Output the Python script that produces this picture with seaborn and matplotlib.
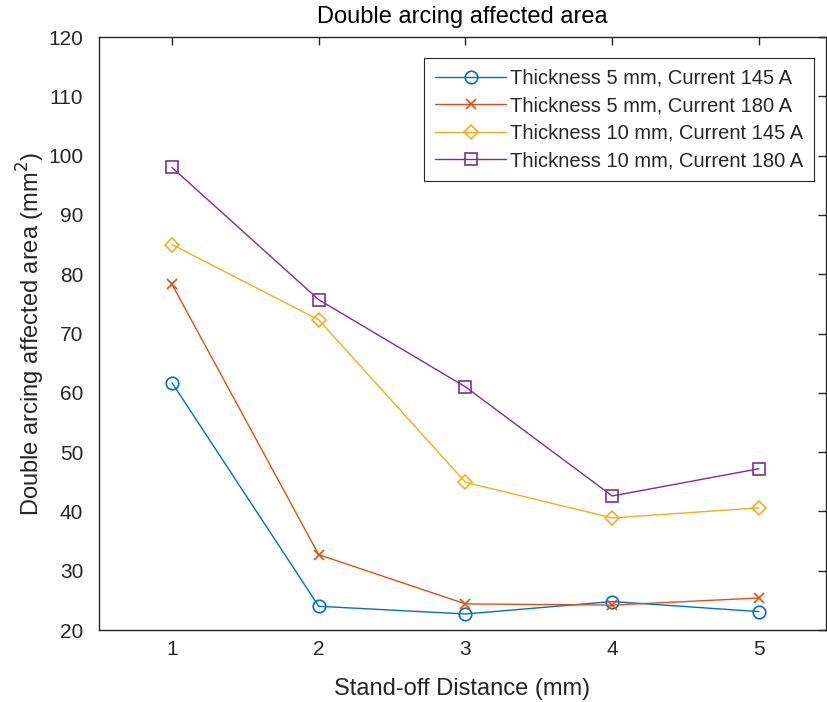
import matplotlib
matplotlib.use("Agg")
import matplotlib.pyplot as plt
import seaborn as sns
import pandas as pd

distance = [1, 2, 3, 4, 5]
t5_c145 = [61.7, 24.0, 22.7, 24.8, 23.1]
t5_c180 = [78.3, 32.7, 24.4, 24.2, 25.4]
t10_c145 = [85.0, 72.3, 44.9, 38.9, 40.6]
t10_c180 = [98.0, 75.7, 61.0, 42.6, 47.2]
labels = ["Thickness 5 mm, Current 145 A", "Thickness 5 mm, Current 180 A",
          "Thickness 10 mm, Current 145 A", "Thickness 10 mm, Current 180 A"]
yticks = [20, 30, 40, 50, 60, 70, 80, 90, 100, 110, 120]

sns.set_style("white")
plt.rcParams['font.family'] = ['Liberation Sans', 'DejaVu Sans']

colors = ["#0072BD", "#D95319", "#EDB120", "#7E2F8E"]
markers = ["o", "x", "D", "s"]
msizes = [9, 7, 7.5, 8]

W, H = 828, 702
fig = plt.figure(figsize=(W / 100, H / 100), dpi=100)
left, right, top, bottom = 98.6, 826, 37, 630
ax = fig.add_axes([left / W, 1 - bottom / H, (right - left) / W, (bottom - top) / H])

series = [t5_c145, t5_c180, t10_c145, t10_c180]
for vals, lab, c, m, ms in zip(series, labels, colors, markers, msizes):
    df = pd.DataFrame({"x": distance, "y": vals})
    kw = dict(marker=m, markersize=ms, markeredgecolor=c, markeredgewidth=1.2, linewidth=1.0)
    if m != "x":
        kw["markerfacecolor"] = "none"
    sns.lineplot(data=df, x="x", y="y", ax=ax, color=c, label=lab, **kw)

ax.set_xlim(0.5, 5 + (826 - 759) / 146.75)
ax.set_ylim(20, 120)
ax.set_xticks(distance)
ax.set_yticks(yticks)
ax.tick_params(direction="in", length=6, width=1, top=True, right=True,
               labelsize=15, colors="#262626")
ax.tick_params(axis="x", pad=7)
ax.tick_params(axis="y", pad=11)
for s in ax.spines.values():
    s.set_linewidth(1.0)
    s.set_color("#262626")
ax.set_xlabel("Stand-off Distance (mm)", fontsize=17, color="#262626", labelpad=14)
ax.set_ylabel("Double arcing affected area (mm$^2$)", fontsize=17, color="#262626", labelpad=1)
ax.set_title("Double arcing affected area", fontsize=17, color="#000000", pad=10)

leg = ax.legend(loc="upper right", bbox_to_anchor=(0.9835, 0.965), fontsize=14.5,
                fancybox=False, framealpha=1, edgecolor="#262626", handlelength=3.5,
                borderpad=0.55, labelspacing=0.42, handletextpad=0.2, borderaxespad=0)
leg.get_frame().set_linewidth(0.8)

fig.savefig("out.png", dpi=100)
